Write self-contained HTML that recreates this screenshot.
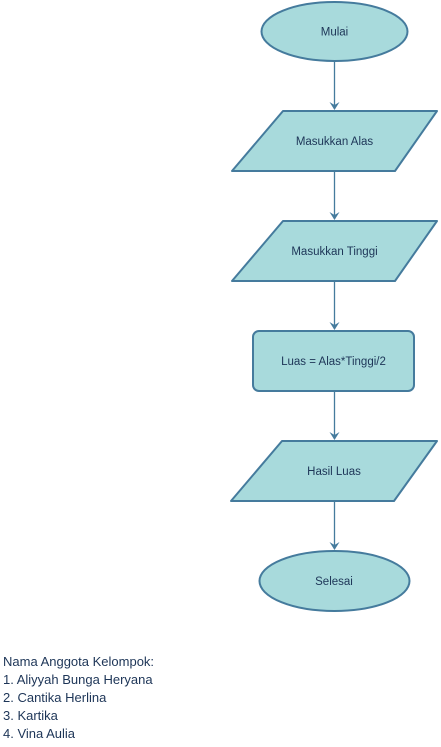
<!DOCTYPE html>
<html><head><meta charset="utf-8"><style>
html,body{margin:0;padding:0;background:#fff;width:441px;height:747px;overflow:hidden}
svg{position:absolute;left:0;top:0}
.n{position:absolute;left:3px;top:653px;font:13px/18px "Liberation Sans",sans-serif;color:#1d3557}
</style></head><body>
<svg width="441" height="747" font-family="Liberation Sans, sans-serif" font-size="11.5" fill="#1d3557">
<defs><marker id="a" markerWidth="10" markerHeight="10" refX="7" refY="5" orient="auto" markerUnits="userSpaceOnUse"><path d="M0,0 L8,5 L0,10 L3,5 Z" fill="#457b9d"/></marker></defs>
<g stroke="#457b9d" stroke-width="1.3" fill="none">
<line x1="334.5" y1="61" x2="334.5" y2="109" marker-end="url(#a)"/>
<line x1="334.5" y1="171" x2="334.5" y2="219" marker-end="url(#a)"/>
<line x1="334.5" y1="281" x2="334.5" y2="329" marker-end="url(#a)"/>
<line x1="334.5" y1="391" x2="334.5" y2="439" marker-end="url(#a)"/>
<line x1="334.5" y1="501" x2="334.5" y2="549" marker-end="url(#a)"/>
</g>
<g fill="#a8dadc" stroke="#457b9d" stroke-width="2" stroke-linejoin="round">
<ellipse cx="334.5" cy="31.5" rx="73" ry="29.5"/>
<path d="M283,111 L437,111 L395,171 L232,171 Z"/>
<path d="M283,221 L437,221 L395,281 L232,281 Z"/>
<rect x="253" y="331" width="161" height="60" rx="6"/>
<path d="M282,441 L437,441 L394,501 L231,501 Z"/>
<ellipse cx="334.5" cy="581" rx="75" ry="30"/>
</g>
<g text-anchor="middle" stroke="none">
<text x="334.5" y="35.5">Mulai</text>
<text x="334.5" y="145">Masukkan Alas</text>
<text x="334.5" y="255">Masukkan Tinggi</text>
<text x="333.5" y="365">Luas = Alas*Tinggi/2</text>
<text x="334" y="475">Hasil Luas</text>
<text x="334" y="585">Selesai</text>
</g>
</svg>
<div class="n">Nama Anggota Kelompok:<br>1. Aliyyah Bunga Heryana<br>2. Cantika Herlina<br>3. Kartika<br>4. Vina Aulia</div>
</body></html>
